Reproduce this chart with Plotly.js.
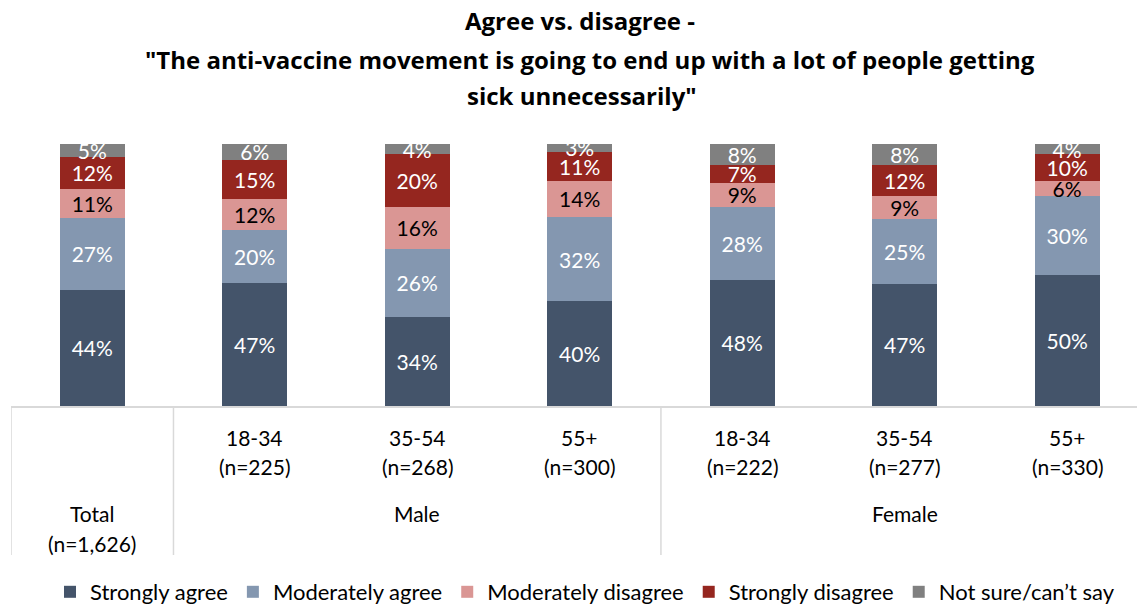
<!DOCTYPE html>
<html>
<head>
<meta charset="utf-8">
<script src="https://cdn.plot.ly/plotly-3.0.1.min.js"></script>
<style>html,body{margin:0;padding:0;background:#fff;}#chart{width:1137px;height:604px;}</style>
</head>
<body>
<div id="chart"></div>
<script>
// ---- Data ----
const ageLabels = ['', '18-34', '35-54', '55+', '18-34', '35-54', '55+'];
const sampleLabels = ['', '(n=225)', '(n=268)', '(n=300)', '(n=222)', '(n=277)', '(n=330)'];
const totalLabel = ['Total', '(n=1,626)'];
const genderLabels = ['Male', 'Female'];
const seriesNames = ['Strongly agree', 'Moderately agree', 'Moderately disagree', 'Strongly disagree', 'Not sure/can\u2019t say'];
const stronglyAgree      = [44, 47, 34, 40, 48, 47, 50];
const moderatelyAgree    = [27, 20, 26, 32, 28, 25, 30];
const moderatelyDisagree = [11, 12, 16, 14, 9, 9, 6];
const stronglyDisagree   = [12, 15, 20, 11, 7, 12, 10];
const notSure            = [5, 6, 4, 3, 8, 8, 4];

const seriesValues = [stronglyAgree, moderatelyAgree, moderatelyDisagree, stronglyDisagree, notSure];
const seriesColors = ['#44546A', '#8497B0', '#DA9694', '#95261F', '#808080'];
const labelColors  = ['#FFFFFF', '#FFFFFF', '#000000', '#FFFFFF', '#FFFFFF'];

const FONT = 'Lato, "Open Sans", "DejaVu Sans", sans-serif';
const TFONT = '"Open Sans", Lato, sans-serif';
const xs = ageLabels.map((_, i) => i);

// pixel helpers for label placement
const W = 1137, H = 604;
const mL = 11, mR = 0;
const plotTop = 144, plotBottom = 406, plotH = plotBottom - plotTop;
const py = p => (plotBottom - p) / plotH;
const px = p => (p - mL) / (W - mL - mR);
const labelDropPx = 3; // small baseline adjustment of the value labels

// 100% stacked: totals per column
const totals = xs.map(i => seriesValues.reduce((s, arr) => s + arr[i], 0));

const barTraces = seriesValues.map((vals, k) => ({
  type: 'bar',
  name: seriesNames[k],
  x: xs,
  y: vals,
  width: 0.4,
  marker: { color: seriesColors[k], line: { width: 0 } },
  textposition: 'none',
  hoverinfo: 'name+y'
}));

// label traces at the middle of each normalized segment
const labelTraces = seriesValues.map((vals, k) => ({
  type: 'scatter',
  mode: 'text',
  x: xs,
  y: xs.map(i => {
    let below = 0;
    for (let j = 0; j < k; j++) below += seriesValues[j][i];
    return (below + vals[i] / 2) / totals[i] * 100 - labelDropPx / plotH * 100;
  }),
  text: vals.map(v => v + '%'),
  textposition: 'middle center',
  textfont: { family: FONT, size: 21, color: labelColors[k] },
  cliponaxis: false,
  showlegend: false,
  hoverinfo: 'skip'
}));

const annotations = [];
const labFont = { family: FONT, size: 21, color: '#000' };
xs.forEach(i => {
  if (ageLabels[i]) {
    annotations.push({ x: i, y: py(437), xref: 'x', yref: 'paper', text: ageLabels[i], showarrow: false, yanchor: 'middle', font: labFont });
    annotations.push({ x: i, y: py(466), xref: 'x', yref: 'paper', text: sampleLabels[i], showarrow: false, yanchor: 'middle', font: labFont });
  }
});
annotations.push({ x: 0, y: py(513), xref: 'x', yref: 'paper', text: totalLabel[0], showarrow: false, yanchor: 'middle', font: labFont });
annotations.push({ x: 0, y: py(543), xref: 'x', yref: 'paper', text: totalLabel[1], showarrow: false, yanchor: 'middle', font: labFont });
annotations.push({ x: 2, y: py(513), xref: 'x', yref: 'paper', text: genderLabels[0], showarrow: false, yanchor: 'middle', font: labFont });
annotations.push({ x: 5, y: py(513), xref: 'x', yref: 'paper', text: genderLabels[1], showarrow: false, yanchor: 'middle', font: labFont });

// Title lines
const titleLines = ['Agree vs. disagree -', '"The anti-vaccine movement is going to end up with a lot of people getting', 'sick unnecessarily"'];
const titleY = [22, 60, 96];
titleLines.slice(1).forEach((t, j) => {
  annotations.push({ x: px(j === 0 ? 590 : 582), xref: 'paper', xanchor: 'center', y: py(titleY[j + 1]), yref: 'paper', yanchor: 'middle', text: '<b>' + t + '</b>', showarrow: false, font: { family: TFONT, size: 24, color: '#000' } });
});

const lineStyle = { color: '#D9D9D9', width: 1.5 };
const shapes = [-0.5, 0.5, 3.5].map(xv => ({
  type: 'line', xref: 'x', yref: 'paper', x0: xv, x1: xv, y0: 0, y1: py(555), line: lineStyle
}));

const layout = {
  width: W, height: H,
  paper_bgcolor: '#fff', plot_bgcolor: '#fff',
  margin: { l: mL, r: mR, t: plotTop, b: H - plotBottom, pad: 0, autoexpand: false },
  barmode: 'stack',
  barnorm: 'percent',
  title: { text: '<b>' + titleLines[0] + '</b>', x: 580 / W, xanchor: 'center', y: 1 - titleY[0] / H, yanchor: 'middle', font: { family: TFONT, size: 24, color: '#000' } },
  xaxis: { range: [-0.5, 6.43], showticklabels: false, ticks: '', showgrid: false, zeroline: false, showline: true, linecolor: '#D9D9D9', linewidth: 1.5, fixedrange: true },
  yaxis: { range: [0, 100], visible: false, showgrid: false, zeroline: false, fixedrange: true },
  showlegend: true,
  legend: { orientation: 'h', traceorder: 'normal', x: px(585), xanchor: 'center', y: py(592), yanchor: 'middle', font: { family: FONT, size: 22, color: '#000' }, itemclick: false, bgcolor: 'rgba(0,0,0,0)' },
  annotations: annotations,
  shapes: shapes,
  font: { family: FONT, color: '#000' }
};

Plotly.newPlot('chart', barTraces.concat(labelTraces), layout, { displayModeBar: false, staticPlot: true });
</script>
</body>
</html>
